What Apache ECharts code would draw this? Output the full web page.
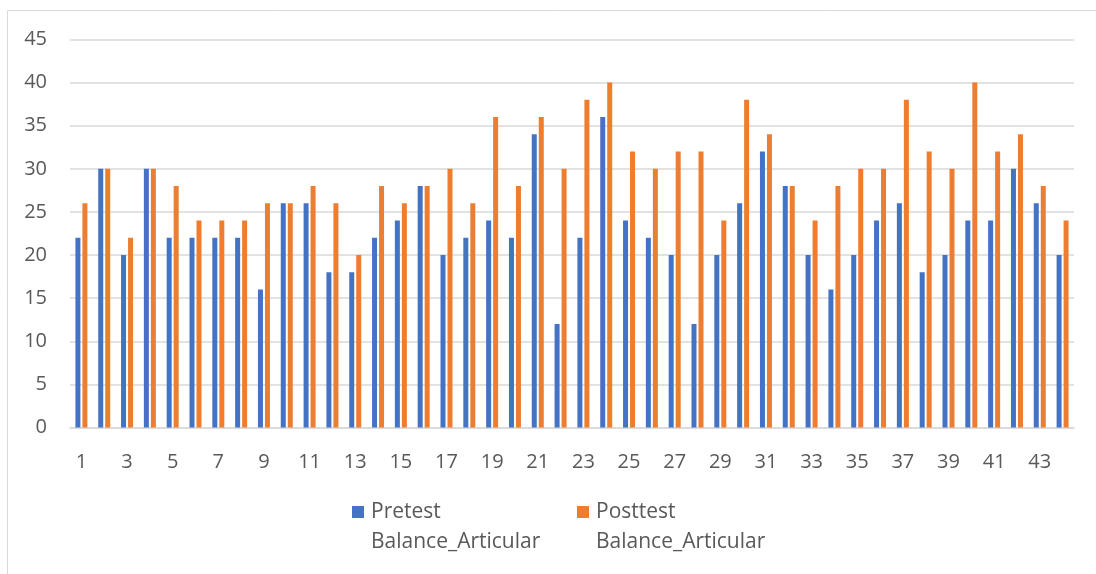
<!DOCTYPE html>
<html>
<head>
<meta charset="utf-8">
<script src="https://cdn.jsdelivr.net/npm/echarts@6/dist/echarts.min.js"></script>
<style>
html,body{margin:0;padding:0;background:#fff;}
#chart{width:1096px;height:574px;}
</style>
</head>
<body>
<div id="chart"></div>
<script>
var categories = [];
for (var i = 1; i <= 44; i++) categories.push(String(i));
var pretest = [22,30,20,30,22,22,22,22,16,26,26,18,18,22,24,28,20,22,24,22,34,12,22,36,24,22,20,12,20,26,32,28,20,16,20,24,26,18,20,24,24,30,26,20];
var posttest = [26,30,22,30,28,24,24,24,26,26,28,26,20,28,26,28,30,26,36,28,36,30,38,40,32,30,32,32,24,38,34,28,24,28,30,30,38,32,30,40,32,34,28,24];
var seriesNames = ['Pretest Balance_Articular', 'Posttest Balance_Articular'];

var chart = echarts.init(document.getElementById('chart'), null, {renderer: 'canvas'});
var font = '"Open Sans", "Noto Sans", sans-serif';
chart.setOption({
  animation: false,
  textStyle: {fontFamily: font},
  graphic: [{
    type: 'rect',
    shape: {x: 7.5, y: 10.5, width: 1200, height: 700},
    style: {fill: 'none', stroke: '#d9d9d9', lineWidth: 1},
    silent: true
  }],
  grid: {left: 70, right: 22, top: 39.5, bottom: 146.5},
  xAxis: {
    type: 'category',
    data: categories,
    axisLine: {show: true, lineStyle: {color: '#d9d9d9', width: 1.5}},
    axisTick: {show: false},
    axisLabel: {interval: 1, color: '#595959', fontSize: 20, margin: 25, fontFamily: font}
  },
  yAxis: {
    type: 'value',
    min: 0, max: 45, interval: 5,
    axisLine: {show: false},
    axisTick: {show: false},
    splitLine: {lineStyle: {color: '#d9d9d9', width: 1.5}},
    axisLabel: {color: '#595959', fontSize: 20, margin: 23, fontFamily: font}
  },
  legend: {
    left: 352,
    top: 497,
    padding: 0,
    itemWidth: 12,
    itemHeight: 42,
    itemGap: 14,
    icon: 'path://M0 0H12V12H0Z M0 41.99H0.01V42H0Z',
    formatter: function (name) { return name.replace(' ', '\n'); },
    textStyle: {color: '#595959', fontSize: 21, lineHeight: 30, width: 192, fontFamily: font, padding: [0, 0, 0, 2]},
    data: seriesNames
  },
  series: [
    {name: seriesNames[0], type: 'bar', data: pretest, barWidth: 5, barGap: '40%', itemStyle: {color: '#4472C4'}},
    {name: seriesNames[1], type: 'bar', data: posttest, barWidth: 5, barGap: '40%', itemStyle: {color: '#ED7D31'}}
  ]
});
</script>
</body>
</html>
